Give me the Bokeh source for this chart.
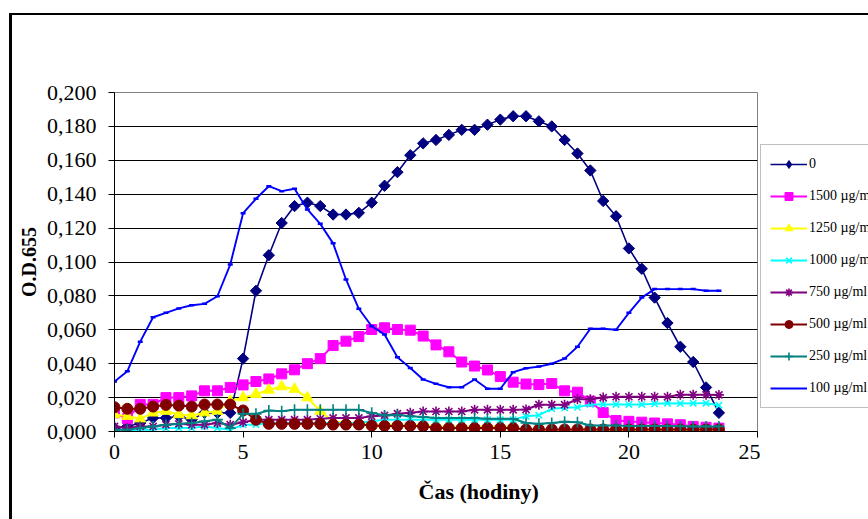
import math
from bokeh.plotting import figure
from bokeh.layouts import row
from bokeh.models import (Range1d, FixedTicker, CustomJSTickFormatter, Legend,
                          LegendItem, Title)
from bokeh.embed import file_html
from bokeh.resources import INLINE

# --- data: optical density over time for each concentration ---
hours = [0, 0.5, 1, 1.5, 2, 2.5, 3, 3.5, 4, 4.5,
         5, 5.5, 6, 6.5, 7, 7.5, 8, 8.5, 9, 9.5,
         10, 10.5, 11, 11.5, 12, 12.5, 13, 13.5, 14, 14.5,
         15, 15.5, 16, 16.5, 17, 17.5, 18, 18.5, 19, 19.5,
         20, 20.5, 21, 21.5, 22, 22.5, 23, 23.5]

od_0 = [0.002, 0.003, 0.005, 0.008, 0.008, 0.009, 0.007, 0.011, 0.011, 0.011,
        0.043, 0.083, 0.104, 0.123, 0.133, 0.135, 0.133, 0.128, 0.128, 0.129,
        0.135, 0.145, 0.153, 0.163, 0.170, 0.172, 0.175, 0.178, 0.178, 0.181,
        0.184, 0.186, 0.186, 0.183, 0.180, 0.172, 0.164, 0.154, 0.136, 0.127,
        0.108, 0.096, 0.079, 0.064, 0.050, 0.041, 0.026, 0.011]

od_1500 = [0.011, 0.0075, 0.016, 0.016, 0.020, 0.020, 0.021, 0.024, 0.024, 0.026,
           0.0275, 0.0295, 0.031, 0.034, 0.0364, 0.040, 0.043, 0.0507, 0.0533, 0.056,
           0.0602, 0.0612, 0.0602, 0.0598, 0.0563, 0.0511, 0.047, 0.041, 0.0386, 0.0363,
           0.0324, 0.0291, 0.028, 0.0277, 0.0283, 0.024, 0.0232, 0.0179, 0.0112, 0.0065,
           0.006, 0.0055, 0.005, 0.0045, 0.004, 0.003, 0.0025, 0.002]

od_1250 = [0.010, 0.009, 0.0075, 0.011, 0.012, 0.010, 0.0094, 0.011, 0.012, 0.018,
           0.020, 0.022, 0.0245, 0.0265, 0.025, 0.020, 0.012, 0.006, 0.005, 0.005,
           0.004, 0.004, 0.004, 0.004, 0.004, 0.003, 0.003, 0.003, 0.003, 0.003,
           0.003, 0.003, 0.0003, 0.0005, 0.0005, 0.0005, 0.0005, 0.0005, 0.0005, 0.0005,
           0.0005, 0.0005, 0.0005, 0.0005, 0.0005, 0.0005, 0.0005, 0.0005]

od_1000 = [0.000, 0.000, 0.001, 0.001, 0.002, 0.002, 0.002, 0.003, 0.002, 0.001,
           0.004, 0.004, 0.005, 0.005, 0.005, 0.005, 0.005, 0.005, 0.005, 0.005,
           0.006, 0.007, 0.007, 0.007, 0.007, 0.007, 0.007, 0.007, 0.007, 0.007,
           0.007, 0.007, 0.009, 0.0096, 0.0134, 0.014, 0.0143, 0.016, 0.016, 0.016,
           0.016, 0.016, 0.0163, 0.0167, 0.0165, 0.0167, 0.0167, 0.0155]

od_750 = [0.003, 0.002, 0.003, 0.003, 0.004, 0.0045, 0.004, 0.004, 0.005, 0.004,
          0.0055, 0.007, 0.007, 0.007, 0.007, 0.007, 0.0075, 0.008, 0.008, 0.008,
          0.009, 0.0095, 0.0105, 0.011, 0.0118, 0.0118, 0.0118, 0.0118, 0.0128, 0.0128,
          0.0128, 0.0128, 0.013, 0.0158, 0.0158, 0.0158, 0.019, 0.019, 0.020, 0.0205,
          0.0205, 0.0205, 0.0205, 0.0205, 0.0217, 0.0217, 0.0217, 0.0216]

od_500 = [0.0143, 0.0134, 0.0134, 0.0147, 0.0157, 0.0153, 0.0147, 0.0159, 0.0159, 0.0159,
          0.0124, 0.0069, 0.0045, 0.0045, 0.0045, 0.0045, 0.0045, 0.0041, 0.0041, 0.0041,
          0.0035, 0.0033, 0.0033, 0.0033, 0.0031, 0.002, 0.002, 0.002, 0.002, 0.002,
          0.002, 0.002, 0.0012, 0.0012, 0.0012, 0.0012, 0.0012, 0.0012, 0.0012, 0.0012,
          0.0012, 0.0012, 0.0012, 0.0012, 0.0012, 0.0012, 0.0012, 0.0012]

od_250 = [0.001, 0.001, 0.002, 0.003, 0.004, 0.0045, 0.005, 0.006, 0.007, 0.002,
          0.0104, 0.0104, 0.0124, 0.012, 0.0128, 0.0128, 0.0128, 0.0128, 0.0128, 0.0128,
          0.011, 0.0095, 0.0098, 0.009, 0.0085, 0.008, 0.008, 0.008, 0.008, 0.0075,
          0.0075, 0.0075, 0.005, 0.0045, 0.005, 0.0058, 0.0055, 0.0035, 0.0035, 0.0035,
          0.0033, 0.0033, 0.0032, 0.0032, 0.0031, 0.003, 0.003, 0.003]

od_100 = [0.0295, 0.0356, 0.053, 0.0674, 0.070, 0.0726, 0.0745, 0.0753, 0.0798, 0.0985,
          0.1288, 0.1373, 0.1447, 0.1418, 0.1432, 0.131, 0.1225, 0.111, 0.0897, 0.0724,
          0.0621, 0.0572, 0.0438, 0.0375, 0.0307, 0.0281, 0.0261, 0.0261, 0.0307, 0.0252,
          0.0252, 0.035, 0.0373, 0.0383, 0.040, 0.043, 0.050, 0.0606, 0.0606, 0.060,
          0.070, 0.079, 0.084, 0.084, 0.084, 0.084, 0.083, 0.083]

series_labels = ["0", "1500 µg/ml", "1250 µg/ml", "1000 µg/ml",
                 "750 µg/ml", "500 µg/ml", "250 µg/ml", "100 µg/ml"]
series_values = [od_0, od_1500, od_1250, od_1000, od_750, od_500, od_250, od_100]

x_ticks = [0, 5, 10, 15, 20, 25]
y_ticks = [0.0, 0.02, 0.04, 0.06, 0.08, 0.10, 0.12, 0.14, 0.16, 0.18, 0.20]

# --- styling per series: (colour, marker, marker size, angle, line width, legend marker) ---
styles = [
    ("#000080", "square", 8, math.pi / 4, 1.6, "diamond"),
    ("#FF00FF", "square", 10, 0, 2, "square"),
    ("#FFFF00", "triangle", 11, 0, 2, "triangle"),
    ("#00FFFF", "x", 9, 0, 2, "x"),
    ("#800080", "asterisk", 10, 0, 2, "asterisk"),
    ("#800000", "circle", 11, 0, 2, "circle"),
    ("#008080", "cross", 11, 0, 2, "cross"),
    ("#0000FF", "dash", 5, 0, 1.9, None),
]

SERIF = "Liberation Serif"


def stroke_width(marker):
    return 1.6 if marker in ("x", "asterisk", "cross") else 1


# ---------------- main chart ----------------
p = figure(width=760, height=519, output_backend="svg", toolbar_location=None,
           x_range=Range1d(0, 25), y_range=Range1d(0, 0.2),
           min_border_left=114, min_border_right=3,
           min_border_top=92, min_border_bottom=88,
           background_fill_color="white", border_fill_color=None)

p.outline_line_color = "#808080"
p.outline_line_width = 1

p.xgrid.visible = False
p.ygrid.ticker = FixedTicker(ticks=y_ticks)
p.ygrid.grid_line_color = "#000000"
p.ygrid.grid_line_width = 1

for ax in (p.xaxis[0], p.yaxis[0]):
    ax.axis_line_color = "black"
    ax.axis_line_width = 1
    ax.major_tick_line_color = "black"
    ax.major_tick_out = 6
    ax.major_tick_in = 0
    ax.minor_tick_line_color = None
    ax.major_label_text_font = SERIF
    ax.major_label_text_font_size = "22px"
    ax.major_label_text_color = "black"
    ax.axis_label_text_font = SERIF
    ax.axis_label_text_font_style = "bold"
    ax.axis_label_text_font_size = "20px"
    ax.axis_label_text_color = "black"

p.xaxis.ticker = FixedTicker(ticks=x_ticks)
p.yaxis.ticker = FixedTicker(ticks=y_ticks)
p.yaxis.formatter = CustomJSTickFormatter(
    code="return tick.toFixed(3).replace('.', ',');")
p.yaxis.major_label_standoff = 12
p.xaxis.major_label_standoff = 7
p.yaxis.axis_label = "O.D.655"
p.yaxis.axis_label_standoff = 4

# x-axis title, set a little right of the plot-area centre
x_title = Title(text="Čas (hodiny)", align="left", offset=304,
                text_font=SERIF, text_font_style="bold", text_font_size="22px",
                text_color="black", standoff=30)
p.add_layout(x_title, "below")

for vals, (color, marker, size, angle, lw, _) in zip(series_values, styles):
    p.line(hours, vals, line_color=color, line_width=lw)
    pts = p.scatter(hours, vals, marker=marker, size=size, angle=angle,
                    fill_color=color, line_color=color,
                    line_width=stroke_width(marker))
    if marker == "dash":
        pts.glyph.line_width = 2.5

# ---------------- legend strip to the right of the plot area ----------------
# The strip's ranges lie outside the data, so only the legend itself shows.
leg = figure(width=108, height=519, output_backend="svg", toolbar_location=None,
             x_range=Range1d(100, 101), y_range=Range1d(100, 101),
             x_axis_location=None, y_axis_location=None,
             min_border=0, background_fill_color=None, border_fill_color=None,
             outline_line_color=None)
leg.grid.visible = False

items = []
for label, vals, (color, marker, size, angle, lw, leg_marker) in zip(series_labels, series_values, styles):
    rs = [leg.line(hours, vals, line_color=color, line_width=lw)]
    if leg_marker is not None:
        rs.append(leg.scatter(hours, vals, marker=leg_marker, size=size,
                              fill_color=color, line_color=color,
                              line_width=stroke_width(leg_marker)))
    items.append(LegendItem(label=label, renderers=rs))

legend = Legend(items=items, location=(0, 23),
                label_text_font=SERIF, label_text_font_size="14px",
                label_text_color="black",
                glyph_width=37, glyph_height=20, label_height=20,
                spacing=12, padding=9, margin=0, label_standoff=2,
                border_line_color="#808080", border_line_width=1,
                background_fill_color="white", background_fill_alpha=1)
leg.add_layout(legend)

# chart-area frame: left and top edges (right/bottom edges lie outside the page)
page = row(p, leg, width=868, height=519, spacing=0, styles={
    "background-color": "white",
    "background-image": "linear-gradient(#000,#000), linear-gradient(#000,#000)",
    "background-size": "3px 100%, 100% 2px",
    "background-position": "9px 13px, 9px 13px",
    "background-repeat": "no-repeat",
})

open("out.html", "w").write(file_html(page, INLINE))
